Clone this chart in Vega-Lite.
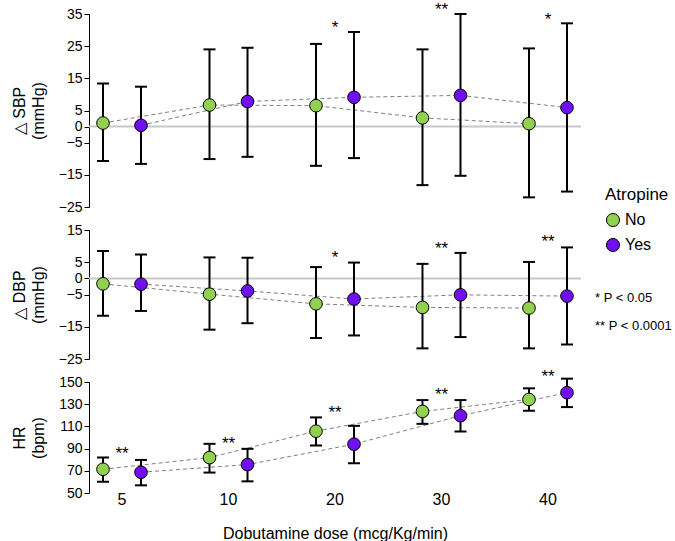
{
  "$schema": "https://vega.github.io/schema/vega-lite/v6.json",
  "padding": {"left": 11, "top": 0, "right": 2, "bottom": 0},
  "config": {
    "font": "Liberation Sans",
    "view": {"stroke": null},
    "axis": {"labelColor": "black", "titleColor": "black", "domainColor": "black", "tickColor": "black", "grid": false, "titleFontWeight": "normal", "labelOverlap": false},
    "legend": {"labelColor": "black", "titleColor": "black", "titleFontWeight": "normal"}
  },
  "datasets": {
    "d": [
      {"panel": "SBP", "dose": 5, "group": "No", "mean": 1.1, "lo": -10.7, "hi": 13.4},
      {"panel": "SBP", "dose": 5, "group": "Yes", "mean": 0.4, "lo": -11.6, "hi": 12.4},
      {"panel": "SBP", "dose": 10, "group": "No", "mean": 6.7, "lo": -10.1, "hi": 24.0},
      {"panel": "SBP", "dose": 10, "group": "Yes", "mean": 7.8, "lo": -9.4, "hi": 24.5},
      {"panel": "SBP", "dose": 20, "group": "No", "mean": 6.5, "lo": -12.2, "hi": 25.7},
      {"panel": "SBP", "dose": 20, "group": "Yes", "mean": 9.1, "lo": -9.8, "hi": 29.4},
      {"panel": "SBP", "dose": 30, "group": "No", "mean": 2.7, "lo": -18.2, "hi": 24.0},
      {"panel": "SBP", "dose": 30, "group": "Yes", "mean": 9.7, "lo": -15.3, "hi": 35.0},
      {"panel": "SBP", "dose": 40, "group": "No", "mean": 0.9, "lo": -22.0, "hi": 24.3},
      {"panel": "SBP", "dose": 40, "group": "Yes", "mean": 5.9, "lo": -20.2, "hi": 32.1},
      {"panel": "DBP", "dose": 5, "group": "No", "mean": -1.7, "lo": -11.6, "hi": 8.5},
      {"panel": "DBP", "dose": 5, "group": "Yes", "mean": -1.8, "lo": -10.1, "hi": 7.4},
      {"panel": "DBP", "dose": 10, "group": "No", "mean": -4.9, "lo": -15.9, "hi": 6.5},
      {"panel": "DBP", "dose": 10, "group": "Yes", "mean": -3.9, "lo": -13.9, "hi": 6.4},
      {"panel": "DBP", "dose": 20, "group": "No", "mean": -7.9, "lo": -18.5, "hi": 3.5},
      {"panel": "DBP", "dose": 20, "group": "Yes", "mean": -6.4, "lo": -17.7, "hi": 4.9},
      {"panel": "DBP", "dose": 30, "group": "No", "mean": -9.0, "lo": -21.7, "hi": 4.5},
      {"panel": "DBP", "dose": 30, "group": "Yes", "mean": -5.1, "lo": -18.2, "hi": 7.9},
      {"panel": "DBP", "dose": 40, "group": "No", "mean": -9.2, "lo": -21.7, "hi": 5.1},
      {"panel": "DBP", "dose": 40, "group": "Yes", "mean": -5.5, "lo": -20.5, "hi": 9.6},
      {"panel": "HR", "dose": 5, "group": "No", "mean": 71.4, "lo": 60.2, "hi": 81.9},
      {"panel": "HR", "dose": 5, "group": "Yes", "mean": 68.7, "lo": 56.9, "hi": 79.8},
      {"panel": "HR", "dose": 10, "group": "No", "mean": 81.9, "lo": 68.4, "hi": 94.3},
      {"panel": "HR", "dose": 10, "group": "Yes", "mean": 75.6, "lo": 60.5, "hi": 89.8},
      {"panel": "HR", "dose": 20, "group": "No", "mean": 105.7, "lo": 92.8, "hi": 118.1},
      {"panel": "HR", "dose": 20, "group": "Yes", "mean": 94.0, "lo": 76.8, "hi": 110.5},
      {"panel": "HR", "dose": 30, "group": "No", "mean": 123.5, "lo": 112.3, "hi": 133.7},
      {"panel": "HR", "dose": 30, "group": "Yes", "mean": 119.6, "lo": 105.4, "hi": 133.7},
      {"panel": "HR", "dose": 40, "group": "No", "mean": 134.3, "lo": 124.1, "hi": 144.3},
      {"panel": "HR", "dose": 40, "group": "Yes", "mean": 140.4, "lo": 127.4, "hi": 153.0}
    ],
    "stars": [
      {"panel": "SBP", "dose": 20, "sig": "*", "y": 31.9},
      {"panel": "SBP", "dose": 30, "sig": "**", "y": 37.6},
      {"panel": "SBP", "dose": 40, "sig": "*", "y": 34.5},
      {"panel": "DBP", "dose": 20, "sig": "*", "y": 7.5},
      {"panel": "DBP", "dose": 30, "sig": "**", "y": 10.4},
      {"panel": "DBP", "dose": 40, "sig": "**", "y": 12.5},
      {"panel": "HR", "dose": 5, "sig": "**", "y": 88.3},
      {"panel": "HR", "dose": 10, "sig": "**", "y": 97.9},
      {"panel": "HR", "dose": 20, "sig": "**", "y": 125.6},
      {"panel": "HR", "dose": 30, "sig": "**", "y": 141.6},
      {"panel": "HR", "dose": 40, "sig": "**", "y": 158.1}
    ]
  },
  "bounds": "flush",
  "spacing": 23,
  "vconcat": [
    {
      "width": 492, "height": 193,
      "encoding": {
        "x": {"field": "dose", "type": "ordinal", "scale": {"paddingInner": 0.38, "paddingOuter": 0}, "axis": null}
      },
      "layer": [
        {"data": {"values": [{}]}, "mark": {"type": "rule", "color": "#c8c8c8", "strokeWidth": 2}, "encoding": {"x": null, "y": {"datum": 0, "type": "quantitative", "scale": {"domain": [-25, 35], "nice": false, "zero": false}, "axis": {"values": [35, 25, 15, 5, 0, -5, -15, -25], "tickCount": 50, "labelOverlap": false, "title": ["△ SBP", "(mmHg)"], "titleFontSize": 16, "titleLineHeight": 19, "labelFontSize": 14, "tickSize": 5, "titlePadding": 12}}}},
        {"data": {"name": "d"}, "transform": [{"filter": "datum.panel == 'SBP'"}], "mark": {"type": "line", "color": "#7f7f7f", "strokeWidth": 1, "strokeDash": [4, 3]},
         "encoding": {"xOffset": {"field": "group", "scale": {"paddingInner": 0.263, "paddingOuter": 0}}, "y": {"field": "mean", "type": "quantitative",
           "axis": {"values": [35, 25, 15, 5, 0, -5, -15, -25], "tickCount": 50, "labelOverlap": false, "title": ["△ SBP", "(mmHg)"], "titleFontSize": 16, "titleLineHeight": 19, "labelFontSize": 14, "tickSize": 5, "titlePadding": 12}}, "detail": {"field": "group"}}},
        {"data": {"name": "d"}, "transform": [{"filter": "datum.panel == 'SBP'"}], "mark": {"type": "rule", "color": "black", "strokeWidth": 2},
         "encoding": {"xOffset": {"field": "group"}, "y": {"field": "lo", "type": "quantitative"}, "y2": {"field": "hi"}}},
        {"data": {"name": "d"}, "transform": [{"filter": "datum.panel == 'SBP'"}], "mark": {"type": "tick", "color": "black", "thickness": 2, "size": 12, "opacity": 1},
         "encoding": {"xOffset": {"field": "group"}, "y": {"field": "lo", "type": "quantitative"}}},
        {"data": {"name": "d"}, "transform": [{"filter": "datum.panel == 'SBP'"}], "mark": {"type": "tick", "color": "black", "thickness": 2, "size": 12, "opacity": 1},
         "encoding": {"xOffset": {"field": "group"}, "y": {"field": "hi", "type": "quantitative"}}},
        {"data": {"name": "d"}, "transform": [{"filter": "datum.panel == 'SBP'"}], "mark": {"type": "point", "filled": true, "size": 160, "stroke": "black", "strokeWidth": 1, "opacity": 1},
         "encoding": {"xOffset": {"field": "group"}, "y": {"field": "mean", "type": "quantitative"}, "fill": {"field": "group", "type": "nominal", "scale": {"domain": ["No", "Yes"], "range": ["#92d050", "#7010f0"]},
           "legend": {"title": "Atropine", "orient": "none", "legendX": 516, "legendY": 173, "titleFontSize": 17, "labelFontSize": 16, "symbolSize": 170, "symbolStrokeColor": "black", "symbolStrokeWidth": 1, "rowPadding": 7, "titlePadding": 8, "labelOffset": 4}}}},
        {"data": {"name": "stars"}, "transform": [{"filter": "datum.panel == 'SBP'"}], "mark": {"type": "text", "fontSize": 17, "baseline": "middle", "dy": 4, "color": "black"},
         "encoding": {"y": {"field": "y", "type": "quantitative"}, "text": {"field": "sig"}, "opacity": {"field": "sig", "type": "ordinal", "scale": {"domain": ["*", "**"], "range": [1, 1]},
           "legend": {"title": null, "orient": "none", "legendX": 493, "legendY": 277, "symbolOpacity": 0, "symbolSize": 0, "symbolStrokeWidth": 0, "labelOffset": 0, "labelFontSize": 13, "rowPadding": 14,
             "labelExpr": "datum.label == '*' ? '  * P < 0.05' : '** P < 0.0001'"}}}}
      ]
    },
    {
      "width": 492, "height": 129,
      "encoding": {
        "x": {"field": "dose", "type": "ordinal", "scale": {"paddingInner": 0.38, "paddingOuter": 0}, "axis": null}
      },
      "layer": [
        {"data": {"values": [{}]}, "mark": {"type": "rule", "color": "#c8c8c8", "strokeWidth": 2}, "encoding": {"x": null, "y": {"datum": 0, "type": "quantitative", "scale": {"domain": [-25, 15], "nice": false, "zero": false}, "axis": {"values": [15, 5, 0, -5, -15, -25], "tickCount": 50, "labelOverlap": false, "title": ["△ DBP", "(mmHg)"], "titleFontSize": 16, "titleLineHeight": 19, "labelFontSize": 14, "tickSize": 5, "titlePadding": 12}}}},
        {"data": {"name": "d"}, "transform": [{"filter": "datum.panel == 'DBP'"}], "mark": {"type": "line", "color": "#7f7f7f", "strokeWidth": 1, "strokeDash": [4, 3]},
         "encoding": {"xOffset": {"field": "group", "scale": {"paddingInner": 0.263, "paddingOuter": 0}}, "y": {"field": "mean", "type": "quantitative",
           "axis": {"values": [15, 5, 0, -5, -15, -25], "tickCount": 50, "labelOverlap": false, "title": ["△ DBP", "(mmHg)"], "titleFontSize": 16, "titleLineHeight": 19, "labelFontSize": 14, "tickSize": 5, "titlePadding": 12}}, "detail": {"field": "group"}}},
        {"data": {"name": "d"}, "transform": [{"filter": "datum.panel == 'DBP'"}], "mark": {"type": "rule", "color": "black", "strokeWidth": 2},
         "encoding": {"xOffset": {"field": "group"}, "y": {"field": "lo", "type": "quantitative"}, "y2": {"field": "hi"}}},
        {"data": {"name": "d"}, "transform": [{"filter": "datum.panel == 'DBP'"}], "mark": {"type": "tick", "color": "black", "thickness": 2, "size": 12, "opacity": 1},
         "encoding": {"xOffset": {"field": "group"}, "y": {"field": "lo", "type": "quantitative"}}},
        {"data": {"name": "d"}, "transform": [{"filter": "datum.panel == 'DBP'"}], "mark": {"type": "tick", "color": "black", "thickness": 2, "size": 12, "opacity": 1},
         "encoding": {"xOffset": {"field": "group"}, "y": {"field": "hi", "type": "quantitative"}}},
        {"data": {"name": "d"}, "transform": [{"filter": "datum.panel == 'DBP'"}], "mark": {"type": "point", "filled": true, "size": 160, "stroke": "black", "strokeWidth": 1, "opacity": 1},
         "encoding": {"xOffset": {"field": "group"}, "y": {"field": "mean", "type": "quantitative"}, "fill": {"field": "group", "type": "nominal"}}},
        {"data": {"name": "stars"}, "transform": [{"filter": "datum.panel == 'DBP'"}], "mark": {"type": "text", "fontSize": 17, "baseline": "middle", "dy": 4, "color": "black"},
         "encoding": {"y": {"field": "y", "type": "quantitative"}, "text": {"field": "sig"}, "opacity": {"field": "sig", "type": "ordinal"}}}
      ]
    },
    {
      "width": 492, "height": 111,
      "encoding": {
        "x": {"field": "dose", "type": "ordinal", "scale": {"paddingInner": 0.38, "paddingOuter": 0},
          "axis": {"labelAngle": 0, "labelFontSize": 16, "domain": false, "ticks": false, "tickSize": 0, "labelPadding": -2, "title": "Dobutamine dose (mcg/Kg/min)", "titleFontSize": 16, "titlePadding": 18}}
      },
      "layer": [
        {"data": {"name": "d"}, "transform": [{"filter": "datum.panel == 'HR'"}], "mark": {"type": "line", "color": "#7f7f7f", "strokeWidth": 1, "strokeDash": [4, 3]},
         "encoding": {"xOffset": {"field": "group", "scale": {"paddingInner": 0.263, "paddingOuter": 0}}, "y": {"field": "mean", "type": "quantitative", "scale": {"domain": [50, 150], "nice": false, "zero": false},
           "axis": {"values": [50, 70, 90, 110, 130, 150], "tickCount": 50, "labelOverlap": false, "title": ["HR", "(bpm)"], "titleFontSize": 16, "titleLineHeight": 19, "labelFontSize": 14, "tickSize": 5, "titlePadding": 12}}, "detail": {"field": "group"}}},
        {"data": {"name": "d"}, "transform": [{"filter": "datum.panel == 'HR'"}], "mark": {"type": "rule", "color": "black", "strokeWidth": 2},
         "encoding": {"xOffset": {"field": "group"}, "y": {"field": "lo", "type": "quantitative"}, "y2": {"field": "hi"}}},
        {"data": {"name": "d"}, "transform": [{"filter": "datum.panel == 'HR'"}], "mark": {"type": "tick", "color": "black", "thickness": 2, "size": 12, "opacity": 1},
         "encoding": {"xOffset": {"field": "group"}, "y": {"field": "lo", "type": "quantitative"}}},
        {"data": {"name": "d"}, "transform": [{"filter": "datum.panel == 'HR'"}], "mark": {"type": "tick", "color": "black", "thickness": 2, "size": 12, "opacity": 1},
         "encoding": {"xOffset": {"field": "group"}, "y": {"field": "hi", "type": "quantitative"}}},
        {"data": {"name": "d"}, "transform": [{"filter": "datum.panel == 'HR'"}], "mark": {"type": "point", "filled": true, "size": 160, "stroke": "black", "strokeWidth": 1, "opacity": 1},
         "encoding": {"xOffset": {"field": "group"}, "y": {"field": "mean", "type": "quantitative"}, "fill": {"field": "group", "type": "nominal"}}},
        {"data": {"name": "stars"}, "transform": [{"filter": "datum.panel == 'HR'"}], "mark": {"type": "text", "fontSize": 17, "baseline": "middle", "dy": 4, "color": "black"},
         "encoding": {"y": {"field": "y", "type": "quantitative"}, "text": {"field": "sig"}, "opacity": {"field": "sig", "type": "ordinal"}}}
      ]
    }
  ]
}
